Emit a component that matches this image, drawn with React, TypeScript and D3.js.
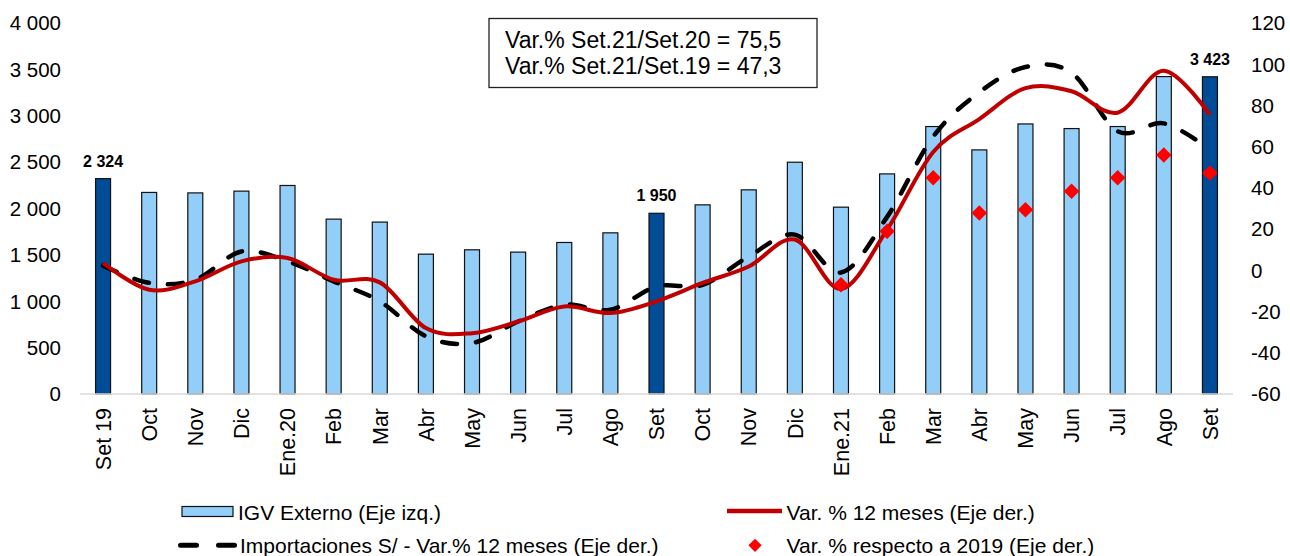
import { useEffect, useRef } from 'react';
import * as d3 from 'd3';

// Meses (set 2019 - set 2021)
const categories = ['Set 19', 'Oct', 'Nov', 'Dic', 'Ene.20', 'Feb', 'Mar', 'Abr', 'May', 'Jun', 'Jul', 'Ago', 'Set',
  'Oct', 'Nov', 'Dic', 'Ene.21', 'Feb', 'Mar', 'Abr', 'May', 'Jun', 'Jul', 'Ago', 'Set'];

// IGV Externo (millones S/, eje izq.)
const igvExterno = [2324, 2175, 2170, 2189, 2250, 1887, 1855, 1509, 1556, 1531, 1635, 1739, 1950,
  2041, 2203, 2501, 2016, 2375, 2886, 2634, 2914, 2864, 2886, 3425, 3423];

// meses resaltados (barra oscura + etiqueta)
const highlighted = [0, 12, 24];

// Var. % 12 meses (eje der.)
const var12m = [3.6, -9.4, -5.3, 4.4, 6, -4.5, -5.8, -28, -30.5, -24.8, -17.5, -20.7, -15,
  -6.1, 1.9, 15, -9, 19.8, 57.5, 73.5, 88.5, 87, 76.6, 97, 75.5];

// Importaciones S/ - Var.% 12 meses (eje der.)
const importaciones = [2.3, -6, -4.5, 9.2, 4.4, -5.3, -15, -32, -35.3, -24.8, -16.7, -19.1, -7.8,
  -7, 6.8, 17.4, -1, 26, 65, 86.5, 98.8, 96, 67.6, 71.4, 58.7];

// Var. % respecto a 2019 (desde Ene.21)
const vs2019Start = 16;
const vs2019 = [-7, 19, 45, 27.9, 29.5, 38.4, 45, 56, 47.3];

const leftTicks = [0, 500, 1000, 1500, 2000, 2500, 3000, 3500, 4000];
const rightTicks = [-60, -40, -20, 0, 20, 40, 60, 80, 100, 120];

const boxLines = ['Var.% Set.21/Set.20 = 75,5', 'Var.% Set.21/Set.19 = 47,3'];

const FONT = '"Liberation Sans", Arial, sans-serif';

const App = () => {
  const ref = useRef<SVGSVGElement>(null);

  useEffect(() => {
    document.body.style.margin = '0';
    const svg = d3.select(ref.current);
    svg.selectAll('*').remove();

    const width = 1290;
    const height = 556;
    const margin = { top: 23.3, right: 57, bottom: 162, left: 80 };
    const plotBottom = height - margin.bottom;

    const locale = d3.formatLocale({ decimal: ',', thousands: ' ', grouping: [3], currency: ['', ''], minus: '-' });
    const fmt = locale.format(',d');

    const x = d3.scaleBand<number>()
      .domain(d3.range(categories.length))
      .range([margin.left, width - margin.right])
      .paddingInner(0.675)
      .paddingOuter(0.3375);

    const yL = d3.scaleLinear().domain([0, 4000]).range([plotBottom, margin.top]);
    const yR = d3.scaleLinear().domain([-60, 120]).range([plotBottom, margin.top]);

    const cx = (i: number) => (x(i) as number) + x.bandwidth() / 2;

    // Eje izquierdo
    svg.append('g')
      .selectAll('text')
      .data(leftTicks)
      .enter().append('text')
      .attr('x', 61)
      .attr('y', d => yL(d))
      .attr('dy', '0.35em')
      .attr('text-anchor', 'end')
      .attr('font-size', 20.5)
      .text(d => fmt(d));

    // Eje derecho
    svg.append('g')
      .selectAll('text')
      .data(rightTicks)
      .enter().append('text')
      .attr('x', 1251)
      .attr('y', d => yR(d))
      .attr('dy', '0.35em')
      .attr('font-size', 20.5)
      .text(d => fmt(d));

    // Barras
    svg.append('g')
      .selectAll('rect')
      .data(igvExterno)
      .enter().append('rect')
      .attr('x', (d, i) => x(i) as number)
      .attr('y', d => yL(d))
      .attr('width', x.bandwidth())
      .attr('height', d => plotBottom - yL(d))
      .attr('fill', (d, i) => highlighted.includes(i) ? '#004C97' : '#93CEF8')
      .attr('stroke', '#111')
      .attr('stroke-width', 1.2);

    // Línea base
    svg.append('line')
      .attr('x1', margin.left)
      .attr('x2', width - margin.right)
      .attr('y1', plotBottom)
      .attr('y2', plotBottom)
      .attr('stroke', '#D9D9D9')
      .attr('stroke-width', 1.5);

    // Etiquetas de barras resaltadas
    svg.append('g')
      .selectAll('text')
      .data(highlighted)
      .enter().append('text')
      .attr('x', i => cx(i))
      .attr('y', i => yL(igvExterno[i]) - 12)
      .attr('text-anchor', 'middle')
      .attr('font-size', 16)
      .attr('font-weight', 'bold')
      .text(i => fmt(igvExterno[i]));

    // Líneas suavizadas
    const line = d3.line<number>()
      .x((d, i) => cx(i))
      .y(d => yR(d))
      .curve(d3.curveCardinal.tension(0));

    svg.append('path')
      .datum(importaciones)
      .attr('d', line)
      .attr('fill', 'none')
      .attr('stroke', '#000')
      .attr('stroke-width', 4.5)
      .attr('stroke-linecap', 'round')
      .attr('stroke-dasharray', '15 19');

    svg.append('path')
      .datum(var12m)
      .attr('d', line)
      .attr('fill', 'none')
      .attr('stroke', '#C00000')
      .attr('stroke-width', 4);

    // Diamantes
    const diamond = d3.symbol(d3.symbolSquare, 120);
    svg.append('g')
      .selectAll('path')
      .data(vs2019)
      .enter().append('path')
      .attr('d', diamond)
      .attr('transform', (d, i) => `translate(${cx(i + vs2019Start)},${yR(d)}) rotate(45)`)
      .attr('fill', '#FF0000');

    // Etiquetas eje X
    svg.append('g')
      .selectAll('text')
      .data(categories)
      .enter().append('text')
      .attr('transform', (d, i) => `translate(${cx(i)},408) rotate(-90)`)
      .attr('dy', '0.36em')
      .attr('text-anchor', 'end')
      .attr('font-size', 21.5)
      .text(d => d);

    // Cuadro de variaciones
    svg.append('rect')
      .attr('x', 489)
      .attr('y', 18.5)
      .attr('width', 328)
      .attr('height', 69)
      .attr('fill', '#fff')
      .attr('stroke', '#222')
      .attr('stroke-width', 1.3);
    svg.append('g')
      .selectAll('text')
      .data(boxLines)
      .enter().append('text')
      .attr('x', 505)
      .attr('y', (d, i) => 48.3 + i * 25.7)
      .attr('font-size', 23)
      .text(d => d);

    // Leyenda
    const leg = svg.append('g').attr('font-size', 21);
    leg.append('rect')
      .attr('x', 182).attr('y', 506.5).attr('width', 51).attr('height', 10)
      .attr('fill', '#93CEF8').attr('stroke', '#111').attr('stroke-width', 1.2);
    leg.append('text').attr('x', 238).attr('y', 520).text('IGV Externo (Eje izq.)');

    leg.append('line')
      .attr('x1', 180.5).attr('x2', 236).attr('y1', 545.3).attr('y2', 545.3)
      .attr('stroke', '#000').attr('stroke-width', 5)
      .attr('stroke-linecap', 'round').attr('stroke-dasharray', '16 22');
    leg.append('text').attr('x', 240).attr('y', 553).text('Importaciones S/ - Var.% 12 meses (Eje der.)');

    leg.append('line')
      .attr('x1', 727).attr('x2', 782).attr('y1', 511).attr('y2', 511)
      .attr('stroke', '#C00000').attr('stroke-width', 4.5);
    leg.append('text').attr('x', 786.5).attr('y', 520).text('Var. % 12 meses (Eje der.)');

    leg.append('path')
      .attr('d', d3.symbol(d3.symbolSquare, 88))
      .attr('transform', 'translate(755,545.3) rotate(45)')
      .attr('fill', '#FF0000');
    leg.append('text').attr('x', 786.5).attr('y', 553).text('Var. % respecto a 2019 (Eje der.)');
  }, []);

  return (
    <svg ref={ref} width={1290} height={556} style={{ display: 'block', fontFamily: FONT, background: '#fff' }} />
  );
};

export default App;
